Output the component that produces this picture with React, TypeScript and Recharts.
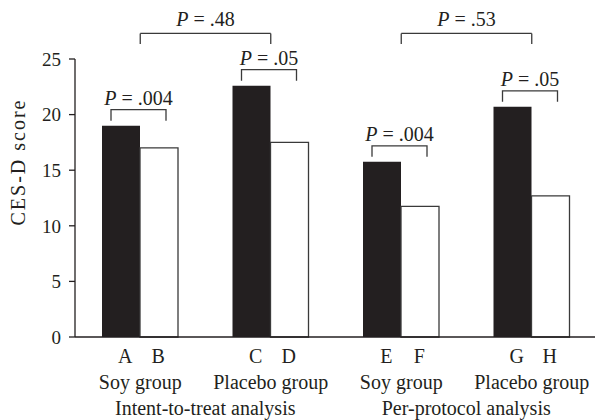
import React from 'react';
import { BarChart, Bar, XAxis, YAxis, ReferenceLine } from 'recharts';

const groupKeys = ['itt-soy', 'itt-placebo', 'pp-soy', 'pp-placebo'];
const groupNames = ['Soy group', 'Placebo group', 'Soy group', 'Placebo group'];
const firstLetters = ['A', 'C', 'E', 'G'];
const secondLetters = ['B', 'D', 'F', 'H'];
const firstScores = [19.0, 22.6, 15.75, 20.7];
const secondScores = [17.0, 17.5, 11.75, 12.7];
const pairP = ['.004', '.05', '.004', '.05'];
const analysisNames = ['Intent-to-treat analysis', 'Per-protocol analysis'];
const analysisP = ['.48', '.53'];
const yTicks = [0, 5, 10, 15, 20, 25];

const data = groupKeys.map((k, i) => ({
  key: k,
  first: firstScores[i],
  second: secondScores[i],
}));

const FONT = '"Liberation Serif", "Times New Roman", serif';
const INK = '#231f20';
const LINE = '#3a3a3a';
const HALF_BAND = 65;
const TOP_BRACKET = 27.3;
const TOP_TICK = 26.35;

const PText = ({ x, y, text }: { x: number; y: number; text: string }) => (
  <text x={x} y={y} textAnchor="middle" fontFamily={FONT} fontSize={20} fill={INK}>
    <tspan fontStyle="italic">P</tspan>
    {' = ' + text}
  </text>
);

const PairBracket = (props: any) => {
  const vb = props.viewBox || props;
  const x = Number(vb.x ?? props.x);
  const y = Number(vb.y ?? props.y);
  const w = Number(vb.width ?? props.width);
  const i = props.index;
  if (!isFinite(x) || !isFinite(y) || i == null) return null;
  const left = x + 9;
  const right = x + 2 * w - 12;
  const ly = y - 16;
  return (
    <g>
      <path
        d={`M${left},${y - 5}V${ly}H${right}V${y - 5}`}
        fill="none"
        stroke={LINE}
        strokeWidth={1.3}
      />
      <PText x={(left + right) / 2} y={ly - 5} text={pairP[i]} />
    </g>
  );
};

const GroupTick = (props: any) => {
  const { x, y, payload } = props;
  const i = payload && payload.index != null ? payload.index : props.index;
  const common = { fontFamily: FONT, fontSize: 20, fill: INK, textAnchor: 'middle' as const };
  return (
    <g>
      <text x={x - 15} y={y + 26} {...common}>{firstLetters[i]}</text>
      <text x={x + 18} y={y + 26} {...common}>{secondLetters[i]}</text>
      <text x={x} y={y + 52} {...common}>{groupNames[i]}</text>
      {i % 2 === 0 && (
        <text x={x + HALF_BAND} y={y + 78} {...common}>{analysisNames[i / 2]}</text>
      )}
    </g>
  );
};

const YLabel = () => (
  <text
    x={0}
    y={0}
    transform="translate(25,162) rotate(-90)"
    textAnchor="middle"
    fontFamily={FONT}
    fontSize={20}
    letterSpacing={2}
    fill={INK}
  >
    CES-D score
  </text>
);

const TopLabel = (text: string) => (props: any) => {
  const vb = props.viewBox || {};
  let cx: number;
  let cy: number;
  if (vb.x1 != null) {
    cx = (vb.x1 + vb.x2) / 2;
    cy = Math.min(vb.y1, vb.y2);
  } else {
    cx = vb.x + (vb.width || 0) / 2;
    cy = vb.y;
  }
  return <PText x={cx} y={cy - 7} text={text} />;
};

export default function App() {
  return (
    <div
      style={{
        position: 'absolute',
        left: 0,
        top: 0,
        width: 595,
        height: 420,
        overflow: 'hidden',
        background: '#fff',
      }}
    >
      <BarChart
        width={597}
        height={420}
        data={data}
        margin={{ top: 59, right: 0, bottom: 0, left: 15 }}
        barGap={0}
        barSize={38}
      >
        <XAxis
          dataKey="key"
          height={83}
          tickLine={false}
          tickSize={0}
          tickMargin={0}
          interval={0}
          axisLine={{ stroke: INK, strokeWidth: 1.3 }}
          tick={<GroupTick />}
        />
        <YAxis
          width={60}
          domain={[0, 25]}
          ticks={yTicks}
          interval={0}
          tickSize={6}
          tickMargin={8}
          axisLine={{ stroke: INK, strokeWidth: 1.3 }}
          tickLine={{ stroke: INK, strokeWidth: 1.3 }}
          tick={{ fontFamily: FONT, fontSize: 19, fill: INK }}
          label={<YLabel />}
        />
        <Bar
          dataKey="first"
          fill={INK}
          isAnimationActive={false}
          label={<PairBracket />}
        />
        <Bar
          dataKey="second"
          fill="#ffffff"
          stroke={LINE}
          strokeWidth={1.3}
          isAnimationActive={false}
        />
        {[0, 1].map((j) => {
          const a = groupKeys[2 * j];
          const b = groupKeys[2 * j + 1];
          return [
            <ReferenceLine
              key={`h${j}`}
              segment={[
                { x: a, y: TOP_BRACKET },
                { x: b, y: TOP_BRACKET },
              ]}
              ifOverflow="visible"
              stroke={LINE}
              strokeWidth={1.3}
              label={TopLabel(analysisP[j])}
            />,
            <ReferenceLine
              key={`l${j}`}
              segment={[
                { x: a, y: TOP_BRACKET },
                { x: a, y: TOP_TICK },
              ]}
              ifOverflow="visible"
              stroke={LINE}
              strokeWidth={1.3}
            />,
            <ReferenceLine
              key={`r${j}`}
              segment={[
                { x: b, y: TOP_BRACKET },
                { x: b, y: TOP_TICK },
              ]}
              ifOverflow="visible"
              stroke={LINE}
              strokeWidth={1.3}
            />,
          ];
        })}
      </BarChart>
    </div>
  );
}
